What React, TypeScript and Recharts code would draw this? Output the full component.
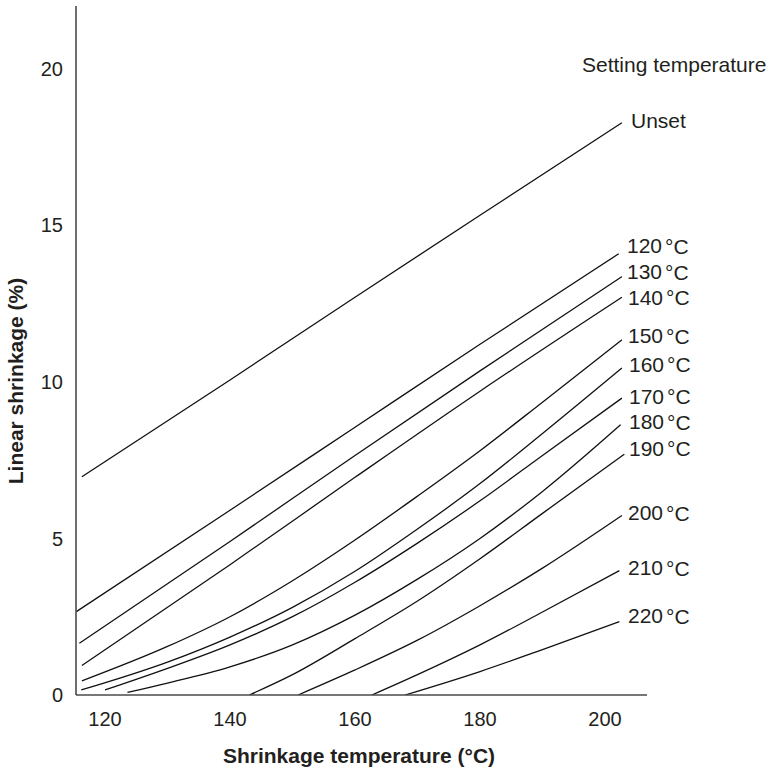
import React from 'react';
import { LineChart, Line, XAxis, YAxis, Label } from 'recharts';

const FONT = '"Liberation Sans", Arial, Helvetica, sans-serif';
const TEXT = '#231f20';

const xTicks = [120, 140, 160, 180, 200];
const yTicks = [0, 5, 10, 15, 20];

// [shrinkage temperature °C, linear shrinkage %]
const unset = [[116.3, 6.97], [140, 10.06], [160, 12.7], [180, 15.32], [202.7, 18.27]];
const s120 = [[115.4, 2.66], [140, 5.9], [160, 8.55], [180, 11.2], [202.2, 14.09]];
const s130 = [[115.9, 1.65], [140, 4.9], [160, 7.65], [180, 10.35], [202.7, 13.36]];
const s140 = [[116.3, 0.94], [140, 4.16], [160, 6.95], [180, 9.7], [202.7, 12.7]];
const s150 = [[116.3, 0.45], [130, 1.55], [140, 2.5], [150, 3.65], [160, 4.95], [170, 6.35], [180, 7.8], [190, 9.35], [202.7, 11.34]];
const s160 = [[116.2, 0.16], [130, 1.05], [140, 1.85], [150, 2.8], [160, 3.95], [170, 5.3], [180, 6.75], [190, 8.35], [202.7, 10.44]];
const s170 = [[120, 0.16], [130, 0.85], [140, 1.6], [150, 2.5], [160, 3.6], [170, 4.85], [180, 6.2], [190, 7.65], [202.7, 9.48]];
const s180 = [[123.6, 0.08], [130, 0.38], [140, 0.9], [150, 1.6], [160, 2.55], [170, 3.7], [180, 5.0], [190, 6.5], [202.5, 8.63]];
const s190 = [[143.1, 0], [150, 0.65], [160, 1.8], [170, 3.0], [180, 4.35], [190, 5.8], [203.1, 7.69]];
const s200 = [[150.9, 0], [160, 0.8], [170, 1.75], [180, 2.85], [190, 4.05], [202.7, 5.73]];
const s210 = [[162.7, 0], [170, 0.65], [180, 1.6], [190, 2.65], [202.3, 3.97]];
const s220 = [[168, 0], [180, 0.75], [190, 1.45], [202.3, 2.34]];

const seriesNames = ['Unset', '120 °C', '130 °C', '140 °C', '150 °C', '160 °C', '170 °C', '180 °C', '190 °C', '200 °C', '210 °C', '220 °C'];
const seriesPoints = [unset, s120, s130, s140, s150, s160, s170, s180, s190, s200, s210, s220];

// label placement (style only)
const labelLeft = [631, 627, 627, 628, 628, 629, 629, 629, 629, 628, 628, 628];
const labelDy = [-2, -8, -5, 0, -4, -4, -2, -3, -6, -3, -3, -6];

const series = seriesPoints.map((pts, i) => ({
  name: seriesNames[i],
  data: pts.map(([t, s]) => ({ t, s })),
}));

function renderName(name: string) {
  const parts = name.split(' ');
  if (parts.length === 1) return name;
  return (
    <>
      {parts[0]}
      <tspan dx={3}>{parts[1]}</tspan>
    </>
  );
}

export default function App() {
  return (
    <div style={{ position: 'absolute', left: 0, top: 0, width: 777, height: 768, background: '#fff' }}>
      <LineChart width={777} height={768} margin={{ top: 6, right: 130, bottom: 0, left: 0 }}>
        <XAxis
          type="number"
          dataKey="t"
          domain={[115.36, 206.72]}
          ticks={xTicks}
          allowDataOverflow
          height={73}
          tickLine={false}
          tickMargin={11}
          axisLine={{ stroke: '#4a4a4a', strokeWidth: 1.6 }}
          tick={{ fontSize: 20, fill: TEXT, fontFamily: FONT }}
        >
          <Label
            content={() => (
              <text x={359} y={763} textAnchor="middle" fontSize={21} fontWeight="bold" fill={TEXT} fontFamily={FONT}>
                Shrinkage temperature (°C)
              </text>
            )}
          />
        </XAxis>
        <YAxis
          type="number"
          dataKey="s"
          domain={[0, 22]}
          ticks={yTicks}
          allowDataOverflow
          width={76}
          tickLine={false}
          tickMargin={7}
          axisLine={{ stroke: '#4a4a4a', strokeWidth: 1.6 }}
          tick={{ fontSize: 20, fill: TEXT, fontFamily: FONT }}
        >
          <Label
            content={() => (
              <text
                x={15}
                y={381}
                transform="rotate(-90 15 381)"
                textAnchor="middle"
                dominantBaseline="central"
                fontSize={21}
                fontWeight="bold"
                fill={TEXT}
                fontFamily={FONT}
              >
                Linear shrinkage (%)
              </text>
            )}
          />
        </YAxis>
        {series.map((ser, si) => (
          <Line
            key={ser.name}
            data={ser.data}
            dataKey="s"
            type={si === 0 ? 'linear' : 'monotone'}
            stroke="#111"
            strokeWidth={1.3}
            dot={false}
            activeDot={false}
            isAnimationActive={false}
            label={(p: any) =>
              p.index === ser.data.length - 1 ? (
                <text
                  key={'lbl' + si}
                  x={labelLeft[si]}
                  y={p.y + labelDy[si]}
                  dominantBaseline="central"
                  fontSize={21}
                  fill={TEXT}
                  fontFamily={FONT}
                >
                  {renderName(ser.name)}
                </text>
              ) : (
                <g key={'lbl' + si + '-' + p.index} />
              )
            }
          />
        ))}
      </LineChart>
      <div
        style={{
          position: 'absolute',
          left: 582,
          top: 53,
          fontSize: 21,
          lineHeight: '24px',
          fontFamily: FONT,
          color: TEXT,
          whiteSpace: 'nowrap',
        }}
      >
        Setting temperature
      </div>
    </div>
  );
}
